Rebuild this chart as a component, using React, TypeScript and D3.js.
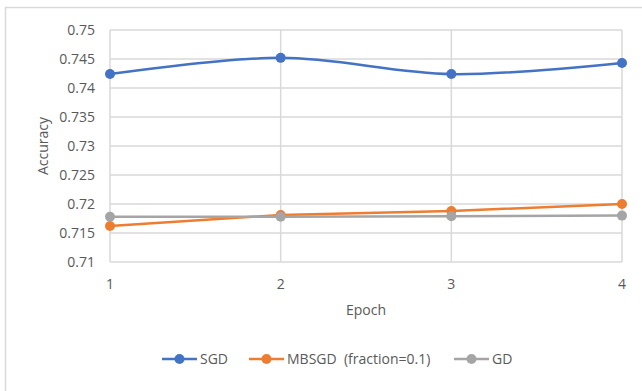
import { useEffect, useRef } from 'react'
import * as d3 from 'd3'

const epochs = [1, 2, 3, 4]
const sgd = [0.7424, 0.7452, 0.7424, 0.7443]
const mbsgd = [0.7162, 0.7181, 0.7188, 0.72]
const gd = [0.7178, 0.7178, 0.7179, 0.718]
const yTicks = [0.71, 0.715, 0.72, 0.725, 0.73, 0.735, 0.74, 0.745, 0.75]

const seriesList = [
    { name: 'SGD', values: sgd, color: '#4472C4', smooth: true },
    { name: 'MBSGD  (fraction=0.1)', values: mbsgd, color: '#ED7D31', smooth: false },
    { name: 'GD', values: gd, color: '#A5A5A5', smooth: false },
]

const App = () => {
    const ref = useRef<SVGSVGElement>(null)

    useEffect(() => {
        const width = 642
        const height = 391
        const svg = d3.select(ref.current)
        svg.selectAll('*').remove()

        const font = "'Open Sans', 'Liberation Sans', sans-serif"
        const textColor = '#595959'

        svg.append('rect')
            .attr('x', 5.5)
            .attr('y', 7.5)
            .attr('width', width + 10)
            .attr('height', height + 10)
            .attr('fill', '#fff')
            .attr('stroke', '#d9d9d9')
            .attr('stroke-width', 1.5)

        const x = d3.scaleLinear().domain([1, 4]).range([110, 622])
        const y = d3.scaleLinear().domain([0.71, 0.75]).range([262, 30])

        // gridlines
        svg.append('g')
            .selectAll()
            .data(yTicks)
            .join('line')
            .attr('x1', x(1))
            .attr('x2', x(4))
            .attr('y1', (d) => y(d))
            .attr('y2', (d) => y(d))
            .attr('stroke', '#d9d9d9')
            .attr('stroke-width', 1.5)
        svg.append('g')
            .selectAll()
            .data(epochs)
            .join('line')
            .attr('x1', (d) => x(d))
            .attr('x2', (d) => x(d))
            .attr('y1', y(0.71))
            .attr('y2', y(0.75))
            .attr('stroke', '#d9d9d9')
            .attr('stroke-width', 1.5)

        // tick labels
        svg.append('g')
            .selectAll()
            .data(yTicks)
            .join('text')
            .attr('x', 95)
            .attr('y', (d) => y(d))
            .attr('dy', '0.35em')
            .attr('text-anchor', 'end')
            .attr('font-family', font)
            .attr('font-size', 14)
            .attr('fill', textColor)
            .text((d) => String(+d.toFixed(3)))
        svg.append('g')
            .selectAll()
            .data(epochs)
            .join('text')
            .attr('x', (d) => x(d))
            .attr('y', 284)
            .attr('dy', '0.35em')
            .attr('text-anchor', 'middle')
            .attr('font-family', font)
            .attr('font-size', 14)
            .attr('fill', textColor)
            .text((d) => String(d))

        // axis titles
        svg.append('text')
            .attr('transform', `translate(43,${(y(0.71) + y(0.75)) / 2}) rotate(-90)`)
            .attr('dy', '0.35em')
            .attr('text-anchor', 'middle')
            .attr('font-family', font)
            .attr('font-size', 14)
            .attr('fill', textColor)
            .text('Accuracy')
        svg.append('text')
            .attr('x', (x(1) + x(4)) / 2)
            .attr('y', 310)
            .attr('dy', '0.35em')
            .attr('text-anchor', 'middle')
            .attr('font-family', font)
            .attr('font-size', 14)
            .attr('fill', textColor)
            .text('Epoch')

        // series
        seriesList.forEach((s) => {
            const line = d3
                .line<number>()
                .x((_, i) => x(epochs[i]))
                .y((d) => y(d))
                .curve(s.smooth ? d3.curveCardinal.tension(0) : d3.curveLinear)
            svg.append('path')
                .datum(s.values)
                .attr('d', line)
                .attr('fill', 'none')
                .attr('stroke', s.color)
                .attr('stroke-width', 2.5)
            svg.append('g')
                .selectAll()
                .data(s.values)
                .join('circle')
                .attr('cx', (_, i) => x(epochs[i]))
                .attr('cy', (d) => y(d))
                .attr('r', 5)
                .attr('fill', s.color)
        })

        // legend
        const legendX = [162, 249, 454]
        const lg = svg.append('g')
        seriesList.forEach((s, i) => {
            const lx = legendX[i]
            lg.append('line')
                .attr('x1', lx)
                .attr('x2', lx + 35)
                .attr('y1', 359)
                .attr('y2', 359)
                .attr('stroke', s.color)
                .attr('stroke-width', 2.5)
            lg.append('circle')
                .attr('cx', lx + 17.5)
                .attr('cy', 359)
                .attr('r', 5)
                .attr('fill', s.color)
            lg.append('text')
                .attr('x', lx + 38)
                .attr('y', 359)
                .attr('dy', '0.35em')
                .attr('font-family', font)
                .attr('font-size', 14)
                .attr('fill', textColor)
                .attr('xml:space', 'preserve')
                .style('white-space', 'pre')
                .text(s.name)
        })
    }, [])

    return (
        <svg
            ref={ref}
            width={642}
            height={391}
            style={{ position: 'absolute', left: 0, top: 0, display: 'block' }}
        />
    )
}

export default App
